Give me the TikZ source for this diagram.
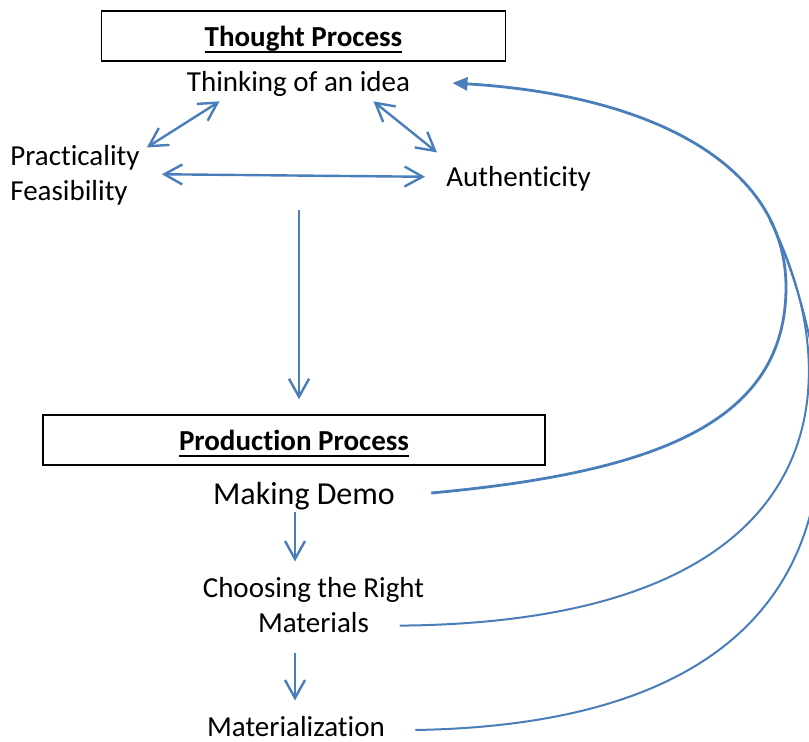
\documentclass[tikz,border=0pt]{standalone}
\usepackage{fontspec}
\setmainfont{Carlito}[Ligatures=NoCommon]
\usetikzlibrary{arrows.meta,calc}
\definecolor{lblue}{RGB}{74,126,187}
\newcommand\ulx[1]{\setbox0\hbox{#1}\rlap{\rule[-2.9pt]{\wd0}{0.9pt}}\box0}
\begin{document}
\begin{tikzpicture}[x=0.5pt,y=-0.5pt,
  lbl/.style={inner sep=0pt, font=\fontsize{14.5}{17.5}\selectfont},
  boxnode/.style={draw=black, line width=0.75pt, inner sep=0pt, text height=11pt, text depth=0pt, minimum height=25pt, font=\fontsize{14.5}{17.5}\selectfont\bfseries},
  conn/.style={draw=lblue, line width=1.2pt},
  dblarrow/.style={conn, {Straight Barb[length=9pt,width=10pt]}-{Straight Barb[length=9pt,width=10pt]}},
  sarrow/.style={conn, -{Straight Barb[length=9pt,width=10pt]}},
  backcurve/.style={draw=lblue, line width=1pt}]
\useasboundingbox (0,0) rectangle (809,742);
\clip (0,0) rectangle (809,742);
% boxes
\node[boxnode, minimum width=202pt] (tp) at (303.5,36) {\ulx{Thought Process}};
\node[boxnode, minimum width=251pt] (pp) at (294,440) {\ulx{Production Process}};
% texts
\node[lbl, anchor=base] (think) at (298.5,92) {Thinking of an idea};
\node[lbl, anchor=base west, align=left] (prac) at (10,201) {Practicality\\Feasibility};
\node[lbl, anchor=base west] (auth) at (446,187) {Authenticity};
\node[lbl, anchor=base, font=\fontsize{16}{19}\selectfont] (demo) at (304,505) {Making Demo};
\node[lbl, anchor=base, align=center] (choose) at (313.5,633) {Choosing the Right\\Materials};
\node[lbl, anchor=base] (mat) at (296,737) {Materialization};
\coordinate (tpend) at (299,210);
\coordinate (apex) at (786,287);
\coordinate (junc) at (770,220);
% thought process arrows
\draw[dblarrow] ($(prac.north east)+(7,2)$) -- ($(think.south west)+(33,4)$);
\draw[dblarrow] ($(think.south east)+(-37,4)$) -- ($(auth.north west)+(-9,-14)$);
\draw[dblarrow] ($(prac.east)+(22,-1.5)$) -- ($(auth.west)+(-21,-2.5)$);
\draw[sarrow] (tpend) -- ($(pp.north)+(5,-15)$);
% production arrows
\draw[sarrow] ($(demo.south)+(-9,1)$) -- ($(choose.north)+(-18.5,-16)$);
\draw[sarrow] ($(choose.south)+(-18.5,19)$) -- ($(mat.north)+(-1,-16)$);
% feedback curves
\draw[backcurve] ($(choose.south east)+(-25,-8)$) .. controls (850,622) and (846.5,371) .. (junc);
\draw[backcurve] ($(mat.base east)+(30,-7)$) .. controls (975,721) and (802,284) .. (junc);
\draw[backcurve, line width=1.4pt, -{Triangle[length=7.5pt,width=6.5pt]}] ($(demo.base east)+(36,-12)$) .. controls (660,472) and (786,421) .. (apex) .. controls (786,165) and (652,95) .. ($(think.base east)+(42,-9)$);
\end{tikzpicture}
\end{document}
